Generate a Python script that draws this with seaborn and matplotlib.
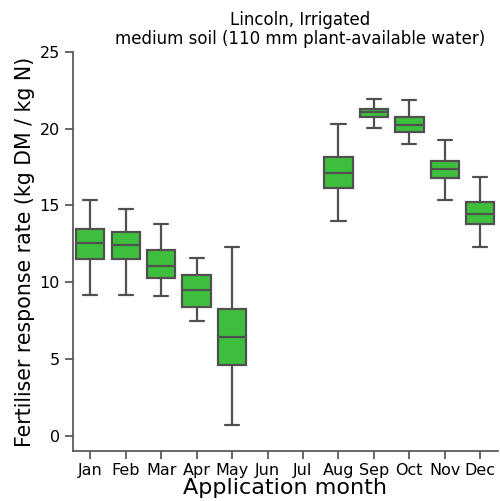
import matplotlib
matplotlib.use("Agg")
import matplotlib.pyplot as plt
import seaborn as sns
import pandas as pd

months = ["Jan", "Feb", "Mar", "Apr", "May", "Jun", "Jul", "Aug", "Sep", "Oct", "Nov", "Dec"]
# five-number summaries per month (Jun, Jul have no data)
low    = {"Jan": 9.18, "Feb": 9.18, "Mar": 9.07, "Apr": 7.49, "May": 0.70,
          "Aug": 13.99, "Sep": 20.08, "Oct": 19.04, "Nov": 15.38, "Dec": 12.29}
q1     = {"Jan": 11.53, "Feb": 11.49, "Mar": 10.27, "Apr": 8.40, "May": 4.63,
          "Aug": 16.14, "Sep": 20.78, "Oct": 19.82, "Nov": 16.80, "Dec": 13.77}
median = {"Jan": 12.58, "Feb": 12.42, "Mar": 11.07, "Apr": 9.51, "May": 6.42,
          "Aug": 17.15, "Sep": 21.08, "Oct": 20.25, "Nov": 17.41, "Dec": 14.47}
q3     = {"Jan": 13.45, "Feb": 13.25, "Mar": 12.10, "Apr": 10.49, "May": 8.25,
          "Aug": 18.19, "Sep": 21.32, "Oct": 20.78, "Nov": 17.90, "Dec": 15.21}
high   = {"Jan": 15.34, "Feb": 14.80, "Mar": 13.77, "Apr": 11.60, "May": 12.32,
          "Aug": 20.30, "Sep": 21.95, "Oct": 21.87, "Nov": 19.30, "Dec": 16.84}

rows = []
for m in low:
    for v in (low[m], q1[m], median[m], q3[m], high[m]):
        rows.append({"month": m, "rate": v})
df = pd.DataFrame(rows)

sns.set_theme(style="ticks")
plt.rcParams['font.family'] = ['DejaVu Sans']

fig = plt.figure(figsize=(5.0, 5.01), dpi=100)
ax = fig.add_axes([0.145, 0.10, 0.851, 0.796])

sns.boxplot(data=df, x="month", y="rate", order=months, color="#3dbf3d",
            saturation=1, whis=(0, 100), width=0.8, linewidth=1.6,
            linecolor="#505050", showfliers=False, ax=ax)

ax.set_ylim(-1, 25)
ax.set_xlim(-0.5, 11.5)
ax.set_yticks([0, 5, 10, 15, 20, 25])
ax.tick_params(axis="both", labelsize=11.5, colors="#555555", labelcolor="black", pad=3)
ax.set_xlabel("Application month", fontsize=16, color="black", labelpad=0)
ax.set_ylabel("Fertiliser response rate (kg DM / kg N)", fontsize=14.8, color="black", labelpad=3)
sns.despine(ax=ax)
ax.spines["left"].set_bounds(-1, 25)
for s in ("left", "bottom"):
    ax.spines[s].set_color("#555555")

fig.text(0.6, 0.978, "Lincoln, Irrigated\nmedium soil (110 mm plant-available water)",
         ha="center", va="top", fontsize=12, linespacing=1.05, color="black")

fig.savefig("out.png", dpi=100)
